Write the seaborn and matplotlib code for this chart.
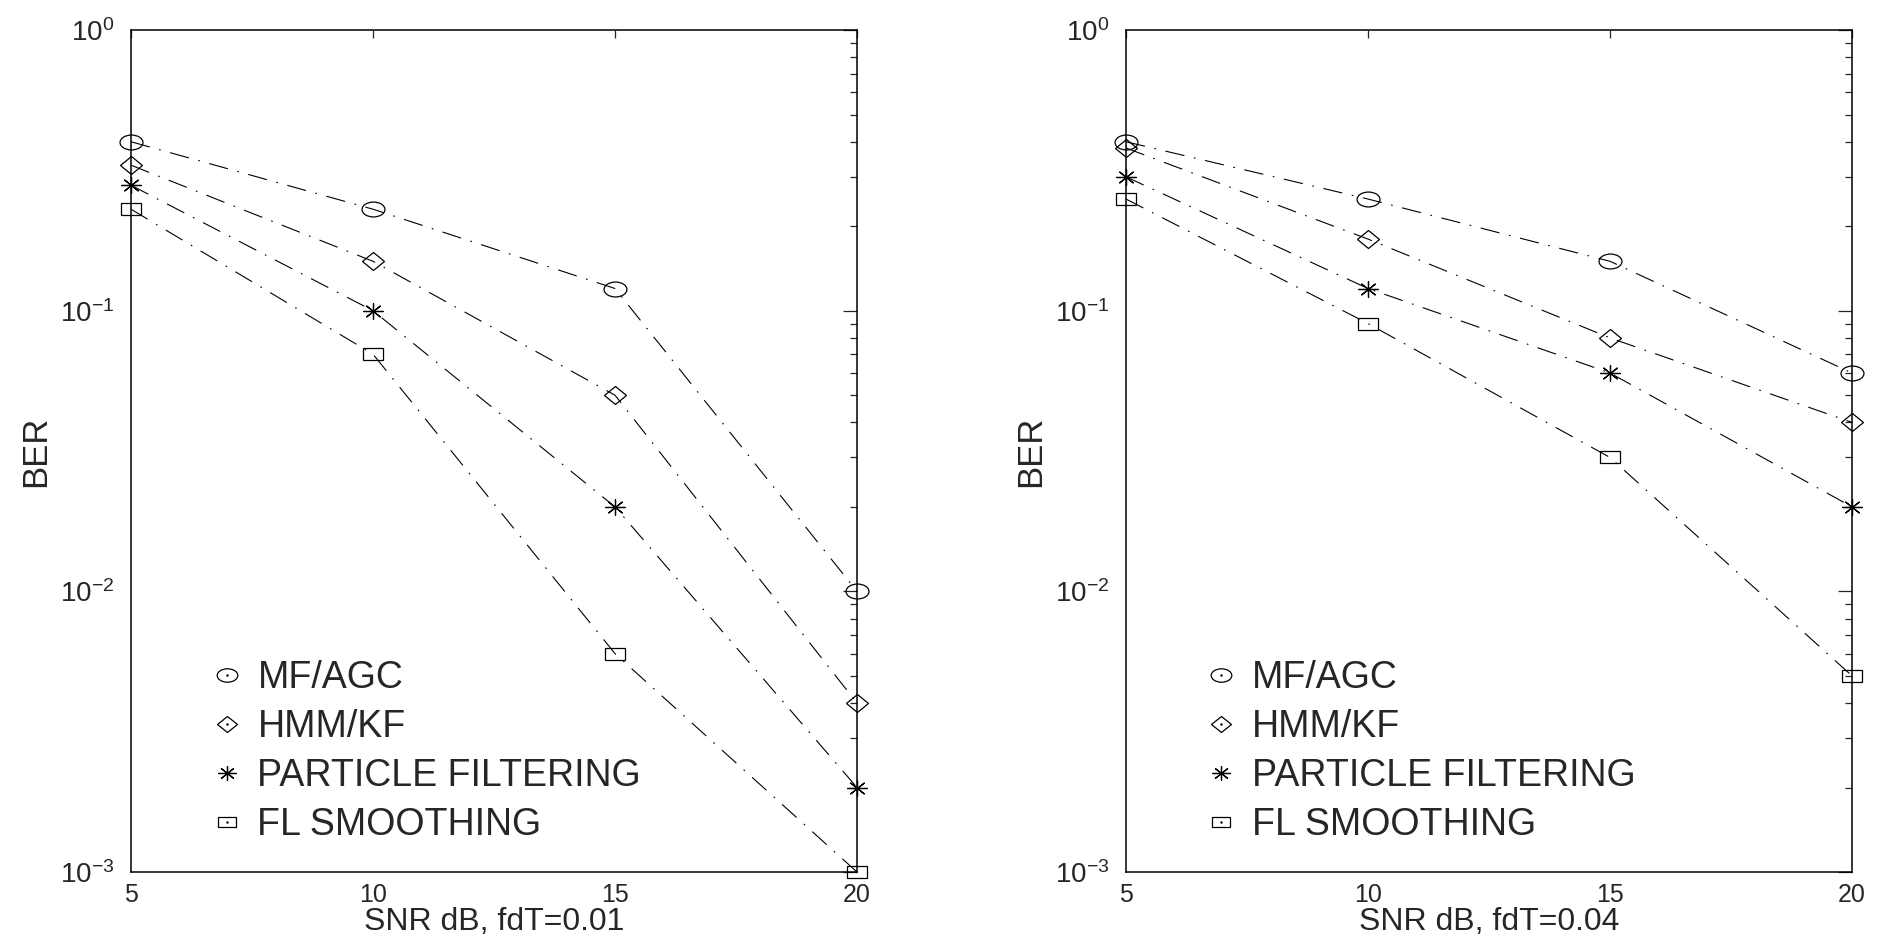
"""
BER vs SNR for four receivers, two Doppler rates (fdT=0.01 and fdT=0.04).
"""

## Import packages
import matplotlib
matplotlib.use('Agg')
import matplotlib.pyplot as plt
from matplotlib.lines import Line2D
from matplotlib.markers import MarkerStyle
from matplotlib.transforms import Affine2D
from matplotlib.legend_handler import HandlerTuple
import seaborn as sns


## Data
snr = [5, 10, 15, 20]
methods = ['MF/AGC', 'HMM/KF', 'PARTICLE FILTERING', 'FL SMOOTHING']

# fdT = 0.01
ber_mf_001 = [0.40, 0.23, 0.12, 0.010]
ber_hmm_001 = [0.33, 0.15, 0.05, 0.004]
ber_pf_001 = [0.28, 0.10, 0.02, 0.002]
ber_fl_001 = [0.23, 0.07, 0.006, 0.001]

# fdT = 0.04
ber_mf_004 = [0.40, 0.25, 0.15, 0.060]
ber_hmm_004 = [0.38, 0.18, 0.08, 0.040]
ber_pf_004 = [0.30, 0.12, 0.06, 0.020]
ber_fl_004 = [0.25, 0.09, 0.03, 0.005]

panels = [
    ("SNR dB, fdT=0.01", [ber_mf_001, ber_hmm_001, ber_pf_001, ber_fl_001]),
    ("SNR dB, fdT=0.04", [ber_mf_004, ber_hmm_004, ber_pf_004, ber_fl_004]),
]


## Style
sns.set_style('white')
plt.rcParams['font.family'] = ['Liberation Sans', 'DejaVu Sans']
plt.rcParams['mathtext.fontset'] = 'custom'
plt.rcParams['mathtext.rm'] = 'Liberation Sans'
plt.rcParams['mathtext.it'] = 'Liberation Sans'
plt.rcParams['lines.scale_dashes'] = False

# MATLAB-like markers, stretched horizontally
def mk(shape, sy):
    return MarkerStyle(shape, fillstyle='none', transform=Affine2D().scale(1.0, sy))

marker_specs = [
    (mk('o', 0.65), 16.5),
    (mk('D', 0.78), 11.7),
    (mk((8, 2, 0), 0.8), 14.4),
    (mk('s', 0.6), 14.4),
]
dash = (0, (14, 7, 1.2, 7))

# Font sizes
tick_fs = 18
ytick_fs = 20
label_fs = 23
legend_fs = 27
ber_fs = 25

## Figure
fig = plt.figure(figsize=(18.77, 9.40), dpi=100)
ax_rects = [[0.0698, 0.0723, 0.3868, 0.8957],
            [0.5999, 0.0723, 0.3868, 0.8957]]
legend_anchor = [(0.115, 0.298), (0.6447, 0.298)]

for i, (xlab, series) in enumerate(panels):
    ax = fig.add_axes(ax_rects[i])
    ax.set_yscale('log')

    for vals, (m, ms) in zip(series, marker_specs):
        sns.lineplot(x=snr, y=vals, ax=ax, color='k', linewidth=0.8,
                     linestyle=dash, marker=m, markersize=ms,
                     markeredgecolor='k', markerfacecolor='none',
                     markeredgewidth=0.9, clip_on=False, errorbar=None)

    ax.set_xlim(5, 20)
    ax.set_ylim(1e-3, 1)
    ax.set_xticks(snr)
    ax.set_xticklabels([str(s) for s in snr])

    for side in ax.spines.values():
        side.set_linewidth(1.1)
        side.set_color('k')

    ax.tick_params(axis='x', which='major', direction='in', top=True,
                   length=6, width=0.9, labelsize=tick_fs, pad=8)
    ax.tick_params(axis='y', which='major', direction='in', right=True,
                   length=10, width=0.9, labelsize=ytick_fs, pad=12)
    ax.tick_params(axis='y', which='minor', direction='in', right=True,
                   length=5, width=0.9)

    ax.set_xlabel(xlab, fontsize=label_fs, labelpad=0)
    ax.set_ylabel("BER", fontsize=ber_fs)
    ax.yaxis.set_label_coords(-0.109, 0.5)

    # Legend: markers only, with the MATLAB centre dot
    handles = []
    for m, ms in marker_specs:
        h1 = Line2D([], [], linestyle='none', marker=m, markersize=ms * 0.9,
                    markeredgecolor='k', markerfacecolor='none', markeredgewidth=0.9)
        h2 = Line2D([], [], linestyle='none', marker='.', markersize=1.5, color='k')
        handles.append((h1, h2))
    ax.legend(handles, methods, loc='upper left', bbox_to_anchor=legend_anchor[i],
              bbox_transform=fig.transFigure, frameon=False, fontsize=legend_fs,
              handlelength=0.59, handletextpad=0.52, labelspacing=0.35,
              borderpad=0, borderaxespad=0,
              handler_map={tuple: HandlerTuple(ndivide=1)})

# Save figure
plt.savefig("out.png", dpi=100)
